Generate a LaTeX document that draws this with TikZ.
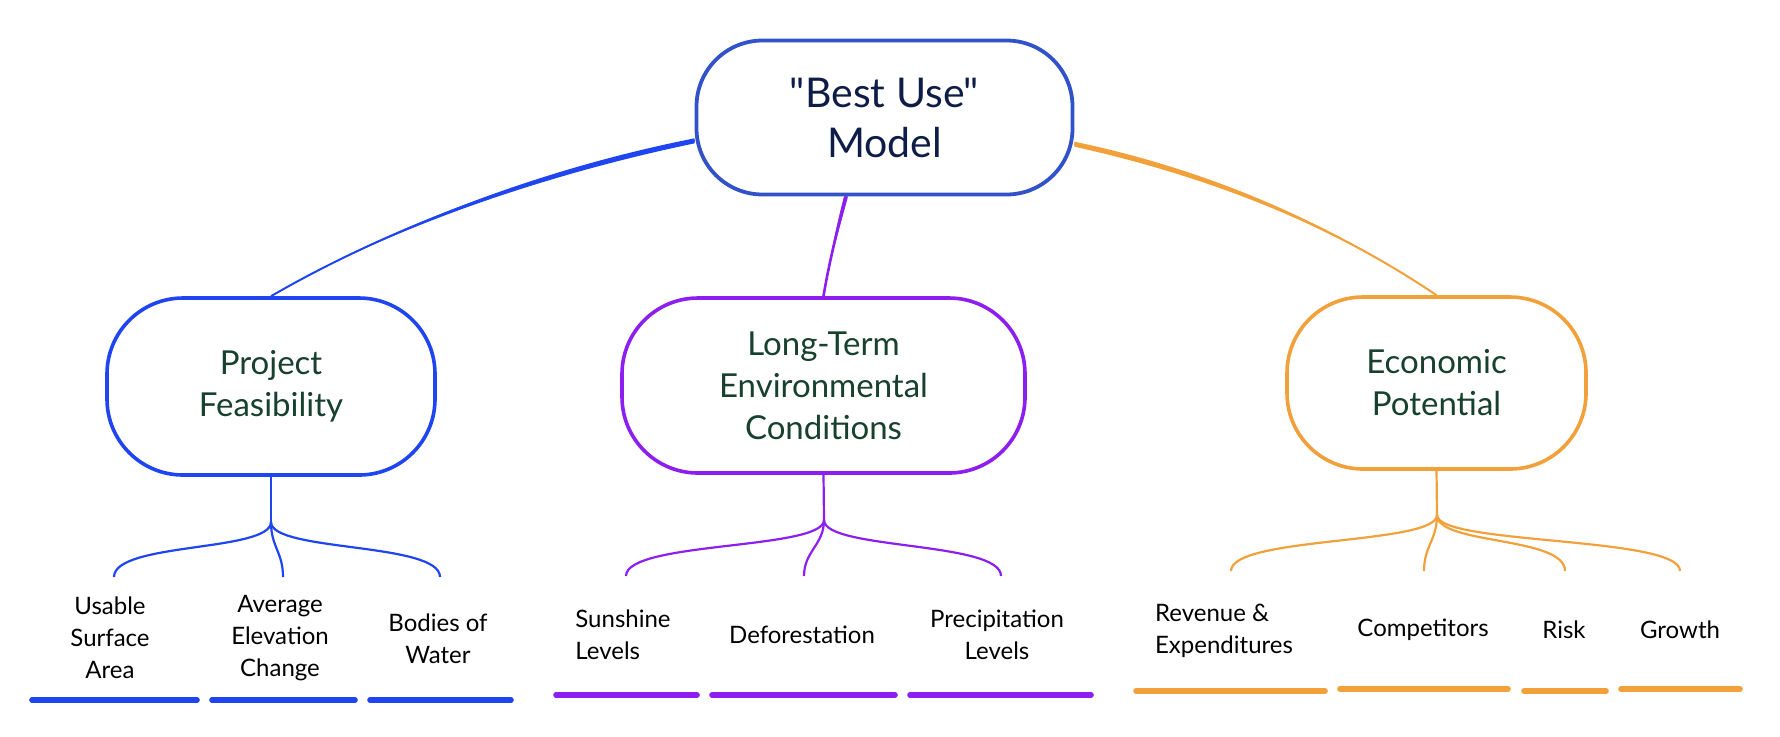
\documentclass[tikz,border=0pt]{standalone}
\usepackage{fontspec}
\setmainfont{Lato}[Ligatures=TeXOff]
\usepackage{xcolor}
\usetikzlibrary{positioning,calc,backgrounds}

\definecolor{modelblue}{HTML}{3152C8}
\definecolor{modelnavy}{HTML}{0E1C48}
\definecolor{feasblue}{HTML}{1F45F2}
\definecolor{envpurple}{HTML}{8D1EF0}
\definecolor{econorange}{HTML}{F2A03A}
\definecolor{hubgreen}{HTML}{17402F}

\tikzset{
  root/.style={draw=modelblue, line width=1.9pt, fill=white, rounded corners=33pt,
    minimum width=188pt, minimum height=77pt, align=center, text=modelnavy,
    font=\fontsize{20.5}{25}\selectfont},
  hub/.style={draw=#1, line width=1.8pt, fill=white, rounded corners=38pt,
    align=center, text=hubgreen, font=\fontsize{16.5}{21}\selectfont},
  leaf/.style={align=center, font=\fontsize{12}{16}\selectfont},
  trunk/.style={line width=1pt},
  twig/.style={line width=1.1pt},
  bar/.style={line width=2.8pt, line cap=round},
}

\begin{document}
\begin{tikzpicture}[x=0.5pt,y=-0.5pt]
\useasboundingbox (0,0) rectangle (1780,736);

% model and the three themes
\node[root] (model) at (884.5,117.5) {"Best Use"\\Model};
\node[hub=feasblue, minimum width=164pt, minimum height=88.5pt] (feas) at (271,386.5) {Project\\Feasibility};
\node[hub=envpurple, minimum width=201.5pt, minimum height=87.5pt] (env) at (823.5,385.5) {Long-Term\\Environmental\\Conditions};
\node[hub=econorange, minimum width=149.5pt, minimum height=86pt] (econ) at (1436.5,383) {Economic\\Potential};

% junctions and leaf ends
\coordinate (fj) at (271,522);
\coordinate (f1) at (114,577);
\coordinate (f2) at (283,577);
\coordinate (f3) at (440,577);
\coordinate (ej) at (824,520);
\coordinate (e1) at (626,576);
\coordinate (e2) at (804,576);
\coordinate (e3) at (1001,576);
\coordinate (oj) at (1437,515);
\coordinate (o1) at (1231,571);
\coordinate (o2) at (1424,571);
\coordinate (o3) at (1565,571);
\coordinate (o4) at (1680,571);

% leaves
\node[leaf] (usable) at (110,638) {Usable\\Surface\\Area};
\node[leaf] (elev) at (280,638) {Average\\Elevation\\Change};
\node[leaf] (water) at (438,639) {Bodies of\\Water};
\node[leaf, align=left] (sun) at (623,635) {Sunshine\\Levels};
\node[leaf] (defor) at (802,635) {Deforestation};
\node[leaf] (precip) at (997,635) {Precipitation\\Levels};
\node[leaf, align=left] (rev) at (1224,631) {Revenue \&\\Expenditures};
\node[leaf] (comp) at (1423,630) {Competitors};
\node[leaf] (risk) at (1564,630) {Risk};
\node[leaf] (growth) at (1680,630) {Growth};

% trunks, thick at the model and thin at the themes
\begin{scope}[on background layer]
\draw[trunk, feasblue] (model.187) .. controls +(-177,35) and +(98,-57) .. (feas.north);
\fill[feasblue] ($(model.187)+(0,-2.5)$) .. controls +(-177,35) and +(98,-57) .. (feas.north)
  .. controls +(98,-57) and +(-177,37) .. ($(model.187)+(0,2.5)$) -- cycle;
\draw[trunk, envpurple, line width=1.3pt] (model.244) .. controls +(-8,30) and +(5,-31) .. (env.north);
\fill[envpurple] ($(model.244)+(-2,0)$) .. controls +(-8,30) and +(5,-31) .. (env.north)
  .. controls +(5,-31) and +(-8,30) .. ($(model.244)+(2,0)$) -- cycle;
\draw[trunk, econorange] (model.352) .. controls +(167,37) and +(-77,-52) .. (econ.north);
\fill[econorange] ($(model.352)+(0,-2.5)$) .. controls +(167,35) and +(-77,-52) .. (econ.north)
  .. controls +(-77,-52) and +(167,37) .. ($(model.352)+(0,2.5)$) -- cycle;
\end{scope}

% feasibility branch
\draw[twig, feasblue] (feas.south) -- (fj);
\draw[twig, feasblue] (fj) .. controls +(0,30) and +(0,-35) .. (f1);
\draw[twig, feasblue] (fj) .. controls +(0,25) and +(0,-25) .. (f2);
\draw[twig, feasblue] (fj) .. controls +(0,30) and +(0,-35) .. (f3);
\draw[bar, feasblue] (32,700) -- (197,700);
\draw[bar, feasblue] (212,700) -- (355,700);
\draw[bar, feasblue] (370,700) -- (511,700);

% environment branch
\draw[twig, envpurple] (env.south) -- (ej);
\draw[twig, envpurple] (ej) .. controls +(0,30) and +(0,-35) .. (e1);
\draw[twig, envpurple] (ej) .. controls +(0,25) and +(0,-25) .. (e2);
\draw[twig, envpurple] (ej) .. controls +(0,30) and +(0,-35) .. (e3);
\draw[bar, envpurple] (556,695) -- (697,695);
\draw[bar, envpurple] (712,695) -- (895,695);
\draw[bar, envpurple] (910,695) -- (1091,695);

% economic branch
\draw[twig, econorange] (econ.south) -- (oj);
\draw[twig, econorange] (oj) .. controls +(0,30) and +(0,-35) .. (o1);
\draw[twig, econorange] (oj) .. controls +(0,25) and +(0,-25) .. (o2);
\draw[twig, econorange] (oj) .. controls +(0,30) and +(0,-35) .. (o3);
\draw[twig, econorange] (oj) .. controls +(0,30) and +(0,-35) .. (o4);
\draw[bar, econorange] (1136,691) -- (1325,691);
\draw[bar, econorange] (1340,689) -- (1508,689);
\draw[bar, econorange] (1524,691) -- (1606,691);
\draw[bar, econorange] (1621,689) -- (1740,689);
\end{tikzpicture}
\end{document}
